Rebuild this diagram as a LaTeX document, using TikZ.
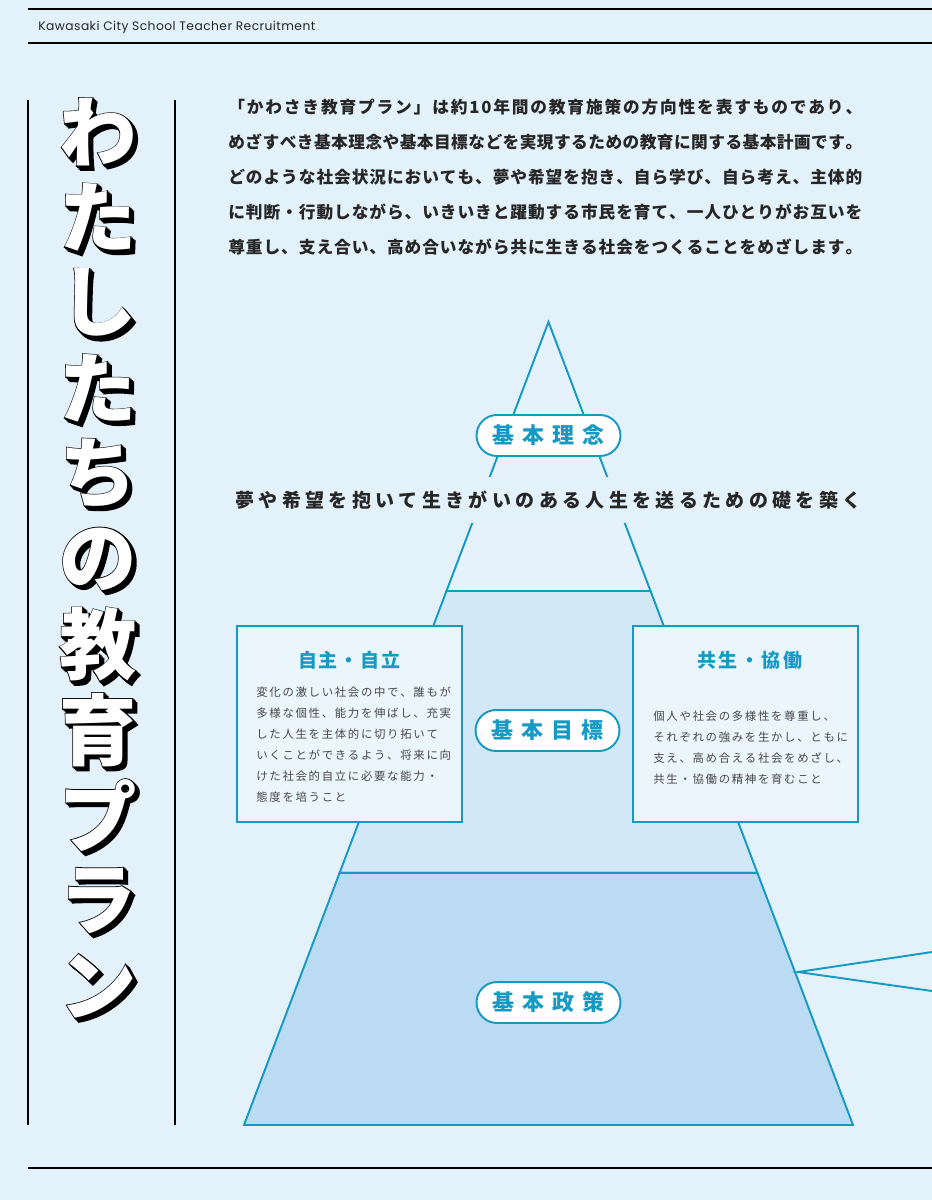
\documentclass[tikz,border=0pt]{standalone}
\usepackage{fontspec}
\usepackage{tikz}
\usetikzlibrary{shapes.misc, positioning, calc}
\setmainfont{Noto Sans CJK JP}
\newfontfamily\jp{Noto Sans CJK JP}
\newfontfamily\jpedge{Noto Sans CJK JP}[BoldFeatures={FakeBold=2.5}]
\newfontfamily\hdr{Poppins}[LetterSpace=3.5]
\definecolor{cBg}{RGB}{226,241,250}
\definecolor{cLine}{RGB}{22,154,196}
\definecolor{cTop}{RGB}{229,242,251}
\definecolor{cMid}{RGB}{211,232,247}
\definecolor{cLow}{RGB}{186,219,242}
\definecolor{cBox}{RGB}{234,245,252}
\definecolor{cInk}{RGB}{38,38,38}
\definecolor{cBody}{RGB}{72,72,72}
\makeatletter
% spread the characters of #2 over the width #1
\def\sp@run#1{\@tfor\sp@ch:=#1\do{\sp@ch\hfil}\unskip}
\newcommand\spreadbox[2]{\edef\sp@list{#2}\makebox[#1][s]{\expandafter\sp@run\expandafter{\sp@list}}}
% fixed tracking between characters
\def\tr@run#1{\@tfor\sp@ch:=#1\do{\sp@ch\kern\sp@k}\unkern}
\newcommand\trackbox[2]{\edef\sp@list{#2}\def\sp@k{#1}\expandafter\tr@run\expandafter{\sp@list}}
\makeatother
\tikzset{
	rule/.style={draw=black, line width=1.1pt},
	pyr/.style={draw=cLine, line width=1.1pt, line join=miter},
	pill/.style={rounded rectangle, draw=cLine, line width=1.1pt, fill=white, minimum width=2.88cm, minimum height=0.82cm, inner sep=0pt, text=cLine, font=\jp\bfseries\fontsize{12.5}{12.5}\selectfont},
	goalbox/.style={rectangle, draw=cLine, line width=1.1pt, fill=cBox, minimum width=4.5cm, minimum height=3.92cm, inner sep=0pt},
	boxhead/.style={text=cLine, inner sep=0pt, font=\jp\bfseries\fontsize{10.8}{10.8}\selectfont},
	boxline/.style={anchor=west, text=cBody, inner sep=0pt, font=\jp\fontsize{6.5}{6.5}\selectfont},
	leadline/.style={anchor=west, text=cInk, inner sep=0pt, font=\jp\bfseries\fontsize{9.5}{9.5}\selectfont},
	ttlchar/.style={inner sep=0pt, font=\jp\bfseries\fontsize{44}{44}\selectfont},
	ttledge/.style={inner sep=0pt, text=black, font=\jpedge\bfseries\fontsize{44}{44}\selectfont},
}
\begin{document}
\begin{tikzpicture}[x=0.02cm, y=-0.02cm]
	\fill[cBg] (0,0) rectangle (932,1200);
	\useasboundingbox (0,0) rectangle (932,1200);

	% page rules
	\draw[rule] (28,9) -- (932,9);
	\draw[rule, line width=0.9pt] (28,43) -- (932,43);
	\draw[rule] (28,1168) -- (932,1168);
	\draw[rule] (28,100) -- (28,1125);
	\draw[rule] (175,100) -- (175,1125);
	\node[anchor=west, inner sep=0pt, text=cInk, font=\hdr\fontsize{7}{7}\selectfont] (hdr) at (38,27) {Kawasaki City School Teacher Recruitment};

	% pyramid
	\coordinate (apex) at (548.5,322);
	\coordinate (bl) at (244,1125);
	\coordinate (br) at (853,1125);
	\coordinate (ml) at ($(apex)!0.335!(bl)$);
	\coordinate (mr) at ($(apex)!0.335!(br)$);
	\coordinate (ll) at ($(apex)!0.686!(bl)$);
	\coordinate (lr) at ($(apex)!0.686!(br)$);
	\filldraw[pyr, fill=cTop] (apex) -- (ml) -- (mr) -- cycle;
	\filldraw[pyr, fill=cMid] (ml) -- (ll) -- (lr) -- (mr) -- cycle;
	\filldraw[pyr, fill=cLow] (ll) -- (bl) -- (br) -- (lr) -- cycle;

	\coordinate (tip) at (798,972);
	\coordinate (pu) at (932,952);
	\coordinate (pd) at (932,991);
	\draw[pyr] (pu) -- (tip) -- (pd);

	\node[fill=cBg, inner xsep=0pt, minimum height=0.92cm, text=cInk, font=\jp\bfseries\fontsize{10.8}{10.8}\selectfont] (motto) at (548.5,500) {\spreadbox{12.52cm}{夢や希望を抱いて生きがいのある人生を送るための礎を築く}};

	\node[pill] (rinen) at (548.5,435.5) {\spreadbox{2.24cm}{基本理念}};
	\node[pill] (mokuhyo) at (547.5,730.5) {\spreadbox{2.24cm}{基本目標}};
	\node[pill] (seisaku) at (548.5,1002.5) {\spreadbox{2.24cm}{基本政策}};

	% goal boxes
	\node[goalbox] (jishu) at (349.5,724) {};
	\node[goalbox] (kyosei) at (745.5,724) {};
	\node[boxhead] (jishu-h) at (349,660) {\spreadbox{2.04cm}{自主・自立}};
	\node[boxhead] (kyosei-h) at (749.5,660) {\spreadbox{2.1cm}{共生・協働}};
	\foreach \t [count=\i from 0] in {変化の激しい社会の中で、誰もが, 多様な個性、能力を伸ばし、充実, した人生を主体的に切り拓いて, いくことができるよう、将来に向, けた社会的自立に必要な能力・, 態度を培うこと}
		\node[boxline] (jishu-\i) at (256,{692+21*\i}) {\trackbox{0.95pt}{\t}};
	\foreach \t [count=\i from 0] in {個人や社会の多様性を尊重し、, それぞれの強みを生かし、ともに, 支え、高め合える社会をめざし、, 共生・協働の精神を育むこと}
		\node[boxline] (kyosei-\i) at (653,{716+21*\i}) {\trackbox{0.95pt}{\t}};

	% lead text
	\foreach \t [count=\i from 0] in {「かわさき教育プラン」は約10年間の教育施策の方向性を表すものであり、, めざすべき基本理念や基本目標などを実現するための教育に関する基本計画です。, どのような社会状況においても、夢や希望を抱き、自ら学び、自ら考え、主体的, に判断・行動しながら、いきいきと躍動する市民を育て、一人ひとりがお互いを, 尊重し、支え合い、高め合いながら共に生きる社会をつくることをめざします。}
		\node[leadline] (lead-\i) at (228,{107+35*\i}) {\spreadbox{12.68cm}{\t}};

	% vertical title
	\foreach \c [count=\i from 0] in {わ,た,し,た,ち,の,教,育,プ,ラ,ン} {
		\foreach \d [count=\j] in {0,1.3,2.6,3.9}
			\node[ttledge] (ttl-\i-s\j) at ({98+\d},{132+85.4*\i+\d}) {\c};
		\node[ttlchar, text=white] (ttl-\i) at (98,{132+85.4*\i}) {\c};
	}
\end{tikzpicture}
\end{document}
